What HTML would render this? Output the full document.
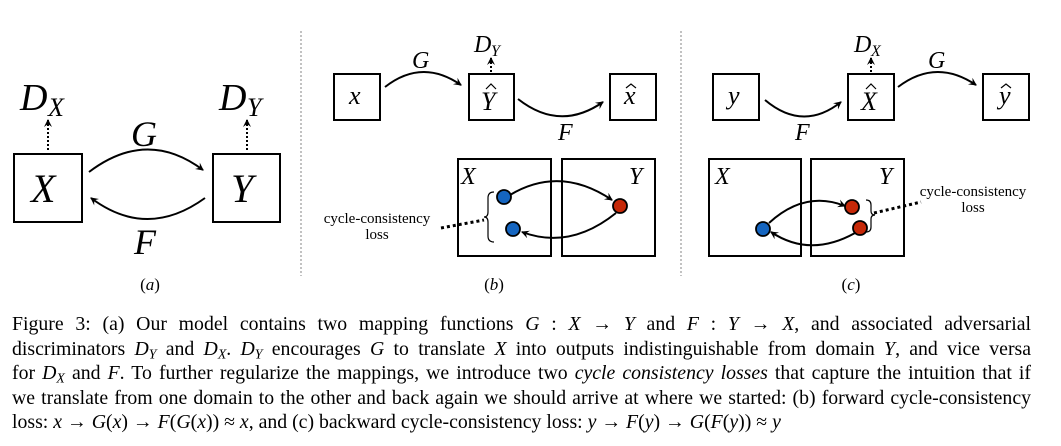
<!DOCTYPE html>
<html><head><meta charset="utf-8"><style>
body{margin:0;background:#fff;width:1061px;height:446px;overflow:hidden;position:relative}
svg{position:absolute;left:0;top:0}
.m{font-family:"Liberation Serif",serif;font-style:italic}
.cap{position:absolute;left:12px;width:1019px;top:312px;font-family:"Liberation Serif",serif;font-size:19.8px;line-height:24.5px;color:#000}
.cap div{text-align:justify;text-align-last:justify;white-space:nowrap;height:24.5px}
.cap div.l{text-align-last:left}
.cap i{font-style:italic}
.cap sub{font-size:70%;line-height:0;vertical-align:-0.25em}
</style></head><body>
<svg width="1061" height="300" viewBox="0 0 1061 300">
<defs>
<marker id="a" markerWidth="10" markerHeight="10" refX="7" refY="5" orient="auto" markerUnits="userSpaceOnUse"><path d="M0,1 L8,5 L0,9 L3,5 Z" fill="#000"/></marker>
</defs>
<g fill="none" stroke="#000" stroke-width="2">
<rect x="14" y="154" width="68" height="68"/>
<rect x="213" y="154" width="67" height="68"/>
<path d="M89,172 Q147,128 203,170" marker-end="url(#a)"/>
<path d="M205,198 Q147,240 91,198" marker-end="url(#a)"/>
<path d="M48,150 L48,120" stroke-dasharray="2,2" marker-end="url(#a)"/>
<path d="M247,150 L247,120" stroke-dasharray="2,2" marker-end="url(#a)"/>
<rect x="334" y="74" width="46" height="46"/>
<rect x="469" y="74" width="45" height="46"/>
<rect x="610" y="74" width="46" height="46"/>
<path d="M385,87 Q422,58 461,85" marker-end="url(#a)"/>
<path d="M518,99 Q560,132 603,102" marker-end="url(#a)"/>
<path d="M491,72 L491,58" stroke-dasharray="2,2" marker-end="url(#a)"/>
<rect x="458" y="159" width="93" height="97"/>
<rect x="562" y="159" width="93" height="97"/>
<path d="M510,195 Q560,165 612,200" marker-end="url(#a)"/>
<path d="M616,213 Q570,250 522,232" marker-end="url(#a)"/>
<path d="M441,228 L484,220" stroke-width="3" stroke-dasharray="3,3"/>
<rect x="713" y="74" width="46" height="46"/>
<rect x="848" y="74" width="46" height="46"/>
<rect x="983" y="74" width="46" height="46"/>
<path d="M765,100 Q803,132 841,102" marker-end="url(#a)"/>
<path d="M898,87 Q936,58 976,85" marker-end="url(#a)"/>
<path d="M871,72 L871,58" stroke-dasharray="2,2" marker-end="url(#a)"/>
<rect x="709" y="159" width="92" height="97"/>
<rect x="811" y="159" width="93" height="97"/>
<path d="M769,223 Q805,190 845,206" marker-end="url(#a)"/>
<path d="M855,233 Q810,258 771,232" marker-end="url(#a)"/>
<path d="M874,213 L921,202" stroke-width="3" stroke-dasharray="3,3"/>
</g>
<g stroke="#000" stroke-width="1.8">
<circle cx="504" cy="197" r="7" fill="#1565c0"/>
<circle cx="513" cy="229" r="7" fill="#1565c0"/>
<circle cx="620" cy="206" r="7" fill="#c62808"/>
<circle cx="763" cy="229" r="7" fill="#1565c0"/>
<circle cx="852" cy="207" r="7" fill="#c62808"/>
<circle cx="860" cy="228" r="7" fill="#c62808"/>
</g>
<g fill="none" stroke="#000" stroke-width="1.2">
<path d="M494,192 Q488,192 488,198 L488,212 Q488,217 484,217 Q488,217 488,222 L488,236 Q488,242 494,242"/>
<path d="M866,200 Q871,200 871,205 L871,211 Q871,215 875,215 Q871,215 871,219 L871,227 Q871,232 866,232"/>
<path d="M486,89 L491,84 L496,89"/>
<path d="M626,88 L631,84 L636,88"/>
<path d="M866,89 L871,84 L876,89"/>
<path d="M1001,88 L1006,84 L1011,88"/>
</g>
<g class="m" fill="#000">
<text x="20" y="110" font-size="38">D</text><text x="48" y="116" font-size="26">X</text>
<text x="219" y="110" font-size="38">D</text><text x="247" y="116" font-size="26">Y</text>
<text x="31" y="202" font-size="40">X</text>
<text x="231" y="202" font-size="40">Y</text>
<text x="131" y="146" font-size="36">G</text>
<text x="134" y="254" font-size="36">F</text>
<text x="349" y="104" font-size="26">x</text>
<text x="481" y="110" font-size="26">Y</text>
<text x="624" y="104" font-size="26">x</text>
<text x="412" y="68" font-size="24">G</text>
<text x="558" y="140" font-size="24">F</text>
<text x="474" y="52" font-size="24">D</text><text x="491" y="56" font-size="16">Y</text>
<text x="461" y="184" font-size="24">X</text>
<text x="629" y="184" font-size="24">Y</text>
<text x="728" y="104" font-size="26">y</text>
<text x="861" y="110" font-size="26">X</text>
<text x="999" y="104" font-size="26">y</text>
<text x="928" y="68" font-size="24">G</text>
<text x="795" y="140" font-size="24">F</text>
<text x="854" y="52" font-size="24">D</text><text x="871" y="56" font-size="16">X</text>
<text x="715" y="184" font-size="24">X</text>
<text x="879" y="184" font-size="24">Y</text>
</g>
<g font-family="Liberation Serif,serif" font-size="15" fill="#000" text-anchor="middle">
<text x="377" y="223">cycle-consistency</text><text x="377" y="239">loss</text>
<text x="973" y="196">cycle-consistency</text><text x="973" y="212">loss</text>
<text x="150" y="290" font-size="17">(<tspan font-style="italic">a</tspan>)</text>
<text x="494" y="290" font-size="17">(<tspan font-style="italic">b</tspan>)</text>
<text x="851" y="290" font-size="17">(<tspan font-style="italic">c</tspan>)</text>
</g>
<g stroke="#999" stroke-width="1.2" stroke-dasharray="2,2">
<line x1="301" y1="31" x2="301" y2="276"/>
<line x1="681" y1="31" x2="681" y2="276"/>
</g>
</svg>
<div class="cap">
<div>Figure 3: (a) Our model contains two mapping functions <i>G</i> : <i>X</i> → <i>Y</i> and <i>F</i> : <i>Y</i> → <i>X</i>, and associated adversarial</div>
<div>discriminators <i>D<sub>Y</sub></i> and <i>D<sub>X</sub></i>. <i>D<sub>Y</sub></i> encourages <i>G</i> to translate <i>X</i> into outputs indistinguishable from domain <i>Y</i>, and vice versa</div>
<div>for <i>D<sub>X</sub></i> and <i>F</i>. To further regularize the mappings, we introduce two <i>cycle consistency losses</i> that capture the intuition that if</div>
<div>we translate from one domain to the other and back again we should arrive at where we started: (b) forward cycle-consistency</div>
<div class="l">loss: <i>x</i> → <i>G</i>(<i>x</i>) → <i>F</i>(<i>G</i>(<i>x</i>)) ≈ <i>x</i>, and (c) backward cycle-consistency loss: <i>y</i> → <i>F</i>(<i>y</i>) → <i>G</i>(<i>F</i>(<i>y</i>)) ≈ <i>y</i></div>
</div>
</body></html>
